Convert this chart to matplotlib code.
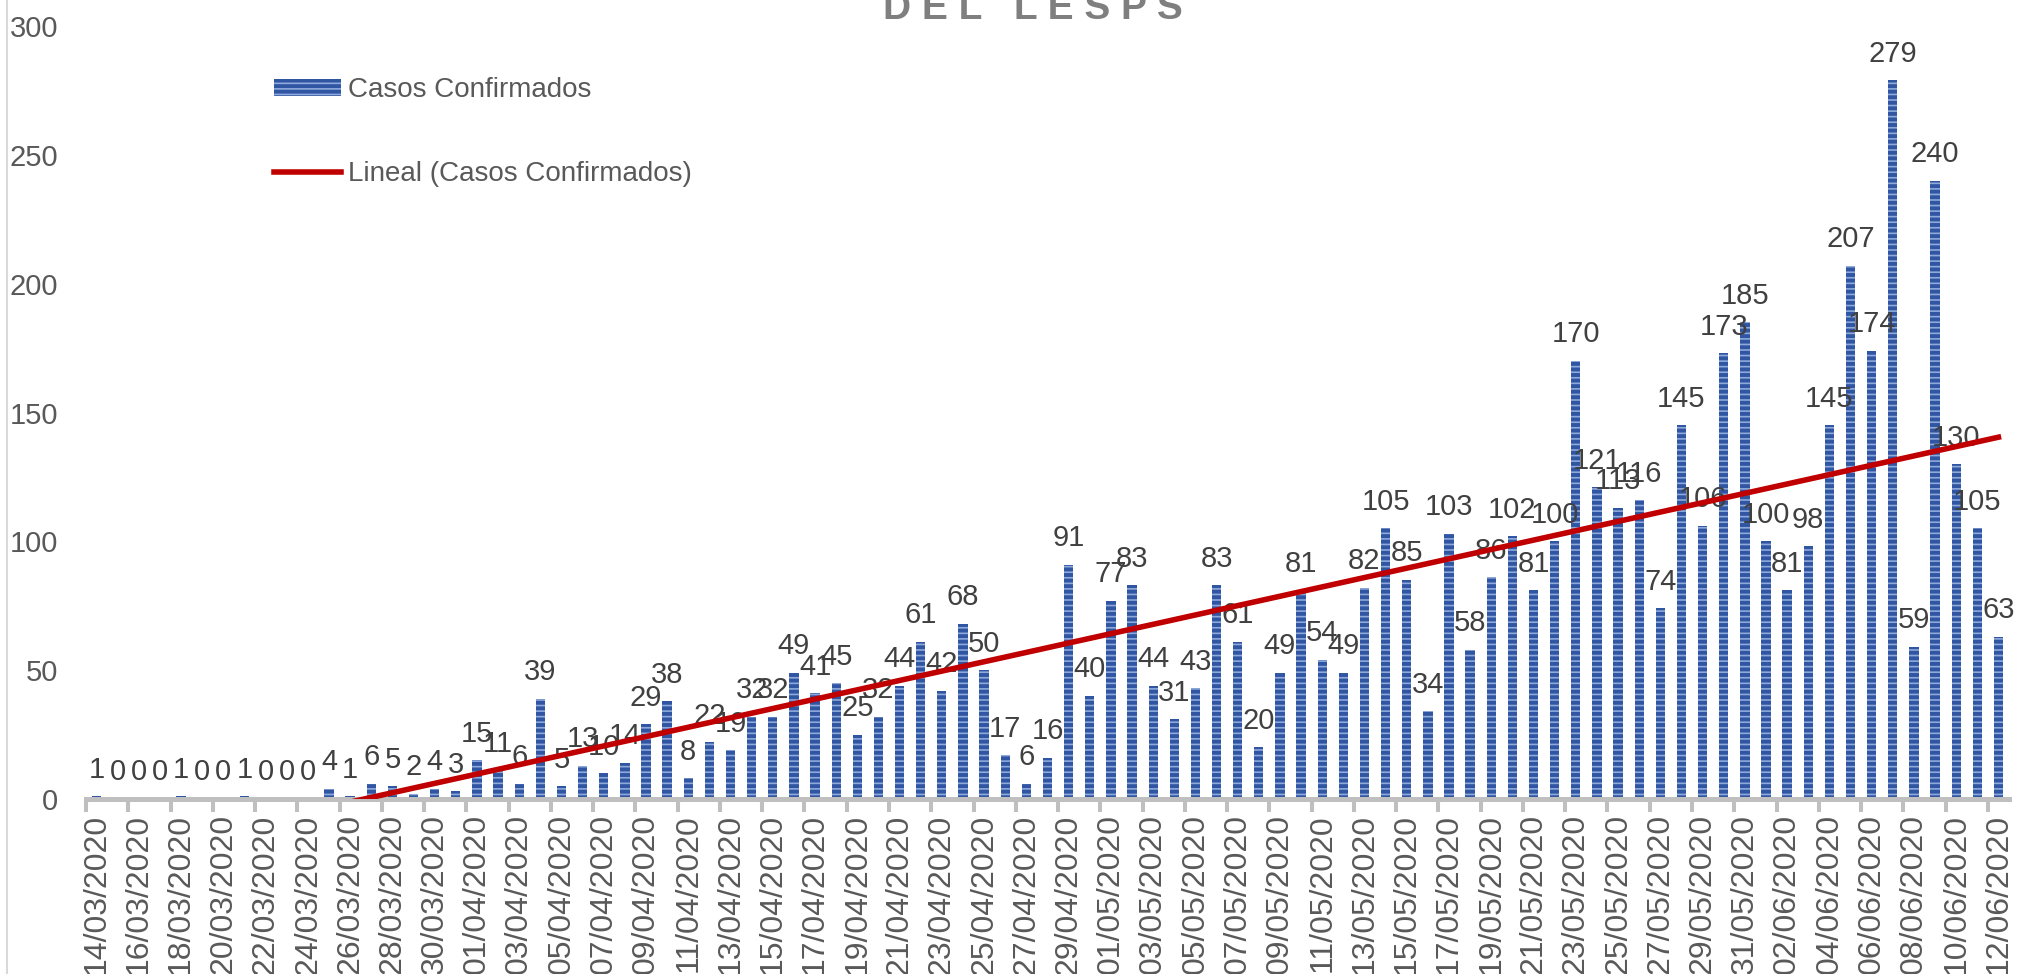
import numpy as np
import matplotlib
matplotlib.use('Agg')
import matplotlib.pyplot as plt
from matplotlib.patches import Patch
from matplotlib.lines import Line2D
from datetime import date, timedelta

plt.rcParams['font.family'] = ['Liberation Sans', 'DejaVu Sans']
plt.rcParams['hatch.linewidth'] = 2.8

# casos confirmados por dia, 14/03/2020 - 12/06/2020
casos = [1, 0, 0, 0, 1, 0, 0, 1, 0, 0,
         0, 4, 1, 6, 5, 2, 4, 3, 15, 11,
         6, 39, 5, 13, 10, 14, 29, 38, 8, 22,
         19, 32, 32, 49, 41, 45, 25, 32, 44, 61,
         42, 68, 50, 17, 6, 16, 91, 40, 77, 83,
         44, 31, 43, 83, 61, 20, 49, 81, 54, 49,
         82, 105, 85, 34, 103, 58, 86, 102, 81, 100,
         170, 121, 113, 116, 74, 145, 106, 173, 185, 100,
         81, 98, 145, 207, 174, 279, 59, 240, 130, 105,
         63]
inicio = date(2020, 3, 14)
fechas = [(inicio + timedelta(days=i)).strftime('%d/%m/%Y') for i in range(len(casos))]
y_ticks = [0, 50, 100, 150, 200, 250, 300]

dark_blue = '#2F55A3'
light_blue = '#8FA9DA'
trend_red = '#C00000'
gray_txt = '#595959'

W, H = 2020, 974
fig = plt.figure(figsize=(W / 100, H / 100), dpi=100)
ax = fig.add_axes([86 / W, 1 - 799 / H, (2009 - 86) / W, (799 - 26) / H])

x = np.arange(len(casos))
bars = ax.bar(x, casos, width=0.44, facecolor=light_blue, edgecolor=dark_blue,
              hatch='---', linewidth=0, zorder=1)
ax.bar_label(bars, labels=[str(v) for v in casos], padding=9, fontsize=21,
             color='#404040')

# tendencia lineal (minimos cuadrados)
m, b = np.polyfit(x, casos, 1)
ax.plot(x, m * x + b, color=trend_red, linewidth=4, zorder=3)

ax.set_xlim(-0.5, len(casos) - 0.5)
ax.set_ylim(0, 300)
ax.set_yticks(y_ticks)
ax.tick_params(axis='y', length=0, pad=20, labelsize=21, labelcolor=gray_txt)

ax.set_xticks(x[::2])
ax.set_xticklabels(fechas[::2], rotation=90, fontsize=23, color=gray_txt)
ax.set_xticks(np.arange(-0.5, len(casos) - 1, 2), minor=True)
ax.tick_params(axis='x', which='major', length=0, pad=11)
ax.tick_params(axis='x', which='minor', length=9, width=2.9, color='#BFBFBF',
               direction='out')

for s in ['top', 'right', 'left']:
    ax.spines[s].set_visible(False)
ax.spines['bottom'].set_color('#BFBFBF')
ax.spines['bottom'].set_linewidth(3.6)
ax.spines['bottom'].set_zorder(2.5)

# borde izquierdo del grafico
fig.add_artist(Line2D([7 / W, 7 / W], [0, 1], transform=fig.transFigure,
                      color='#D9D9D9', linewidth=1.5))

handles = [Patch(facecolor=light_blue, edgecolor=dark_blue, hatch='---', linewidth=0),
           Line2D([0], [0], color=trend_red, linewidth=4)]
fig.legend(handles, ['Casos Confirmados', 'Lineal (Casos Confirmados)'],
           loc='upper left', bbox_to_anchor=(274 / W, 1 - 77 / H),
           frameon=False, fontsize=20, labelcolor=gray_txt,
           handlelength=2.4, handleheight=0.55, handletextpad=0.25,
           labelspacing=2.1, borderpad=0, borderaxespad=0)

fig.text(1033 / W, 1 - 19 / H, 'D E L   L E S P S', ha='center', va='baseline',
         fontsize=28, fontweight='bold', color='#7F7F7F')

fig.savefig('out.png', dpi=100)
